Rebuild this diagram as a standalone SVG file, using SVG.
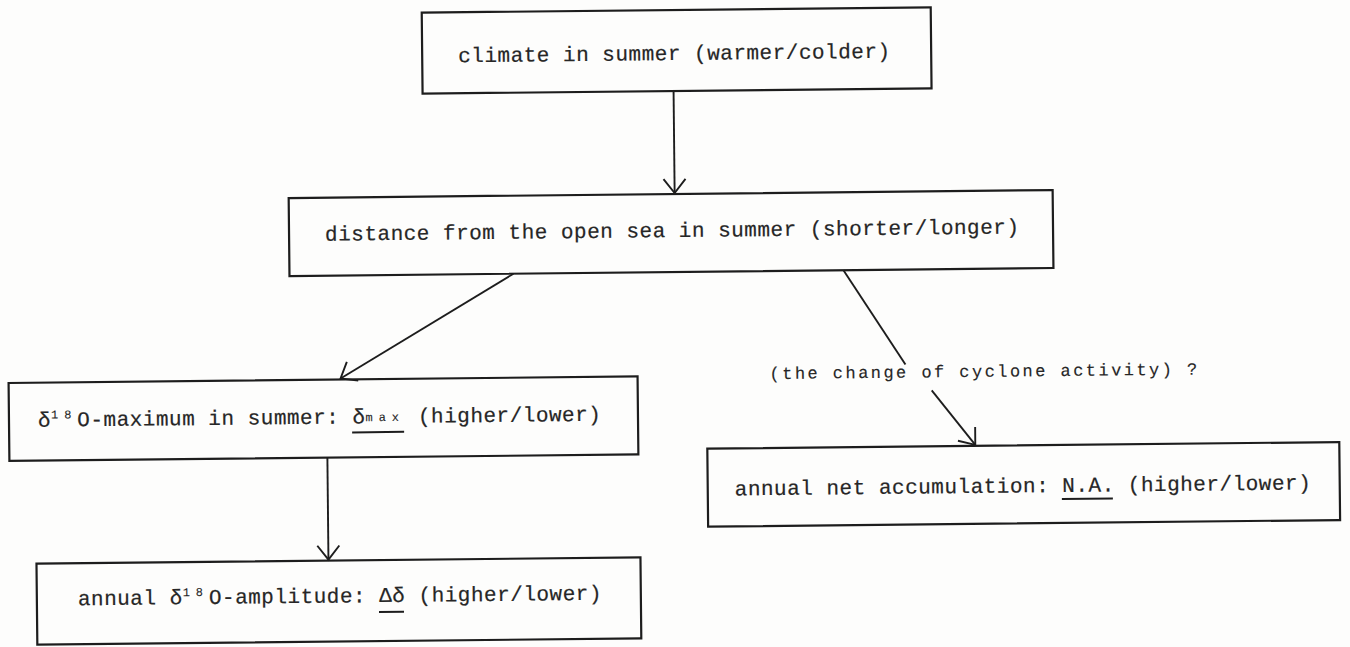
<svg xmlns="http://www.w3.org/2000/svg" width="1350" height="647" viewBox="0 0 1350 647">
<style>
.box{fill:none;stroke:#1d1d1d;stroke-width:2.2}
.ln{fill:none;stroke:#1d1d1d;stroke-width:1.9}
.t{font-family:"Liberation Mono","Courier New",monospace;font-size:21px;letter-spacing:0.5px;fill:#262626;stroke:#262626;stroke-width:0.2}
.s{font-size:12px;letter-spacing:5.9px;stroke-width:0.1}
.lbl{font-size:17px;letter-spacing:2.45px;stroke-width:0.15}
.ul{stroke:#1d1d1d;stroke-width:2}
</style>
<defs>
<marker id="ah" markerUnits="userSpaceOnUse" viewBox="-16 -13 18 26" markerWidth="18" markerHeight="26" refX="0" refY="0" orient="auto" overflow="visible">
<path d="M-14,-11 L0,0 L-14,11" fill="none" stroke="#1d1d1d" stroke-width="1.9"/>
</marker>
</defs>
<rect x="0" y="0" width="1350" height="647" fill="#fdfdfc"/>
<g transform="rotate(-0.6 675 323)">
<g id="connectors">
<line class="ln" x1="676" y1="91" x2="676" y2="193" marker-end="url(#ah)"/>
<line class="ln" x1="514" y1="272" x2="340" y2="375" marker-end="url(#ah)"/>
<line class="ln" x1="326" y1="454" x2="326" y2="556" marker-end="url(#ah)"/>
<line class="ln" x1="844" y1="272" x2="905" y2="367"/>
<line class="ln" x1="931" y1="393" x2="974" y2="448" marker-end="url(#ah)"/>
<text class="t lbl" x="769" y="380">(the change of cyclone activity) ?</text>
</g>
<g id="n1">
<rect class="box" x="425" y="10" width="509" height="81"/>
<text class="t" x="461" y="60">climate in summer (warmer/colder)</text>
</g>
<g id="n2">
<rect class="box" x="290" y="194" width="764" height="78"/>
<text class="t" x="326" y="237">distance from the open sea in summer (shorter/longer)</text>
</g>
<g id="n3">
<rect class="box" x="8" y="376" width="629" height="78"/>
<text class="t" x="37" y="420">δ<tspan class="s" dy="-8">18</tspan><tspan dy="8">O-maximum in summer: δ</tspan><tspan class="s" dy="-2">max</tspan><tspan dy="2"> (higher/lower)</tspan></text>
<line class="ul" x1="351" y1="429" x2="403" y2="429"/>
</g>
<g id="n4">
<rect class="box" x="34" y="557" width="604" height="81"/>
<text class="t" x="75" y="599">annual δ<tspan class="s" dy="-8">18</tspan><tspan dy="8">O-amplitude: Δδ (higher/lower)</tspan></text>
<line class="ul" x1="376" y1="609" x2="401" y2="609"/>
</g>
<g id="n5">
<rect class="box" x="706" y="449" width="632" height="78"/>
<text class="t" x="733" y="496">annual net accumulation: N.A. (higher/lower)</text>
<line class="ul" x1="1060" y1="503" x2="1111" y2="503"/>
</g>
</g>
</svg>
